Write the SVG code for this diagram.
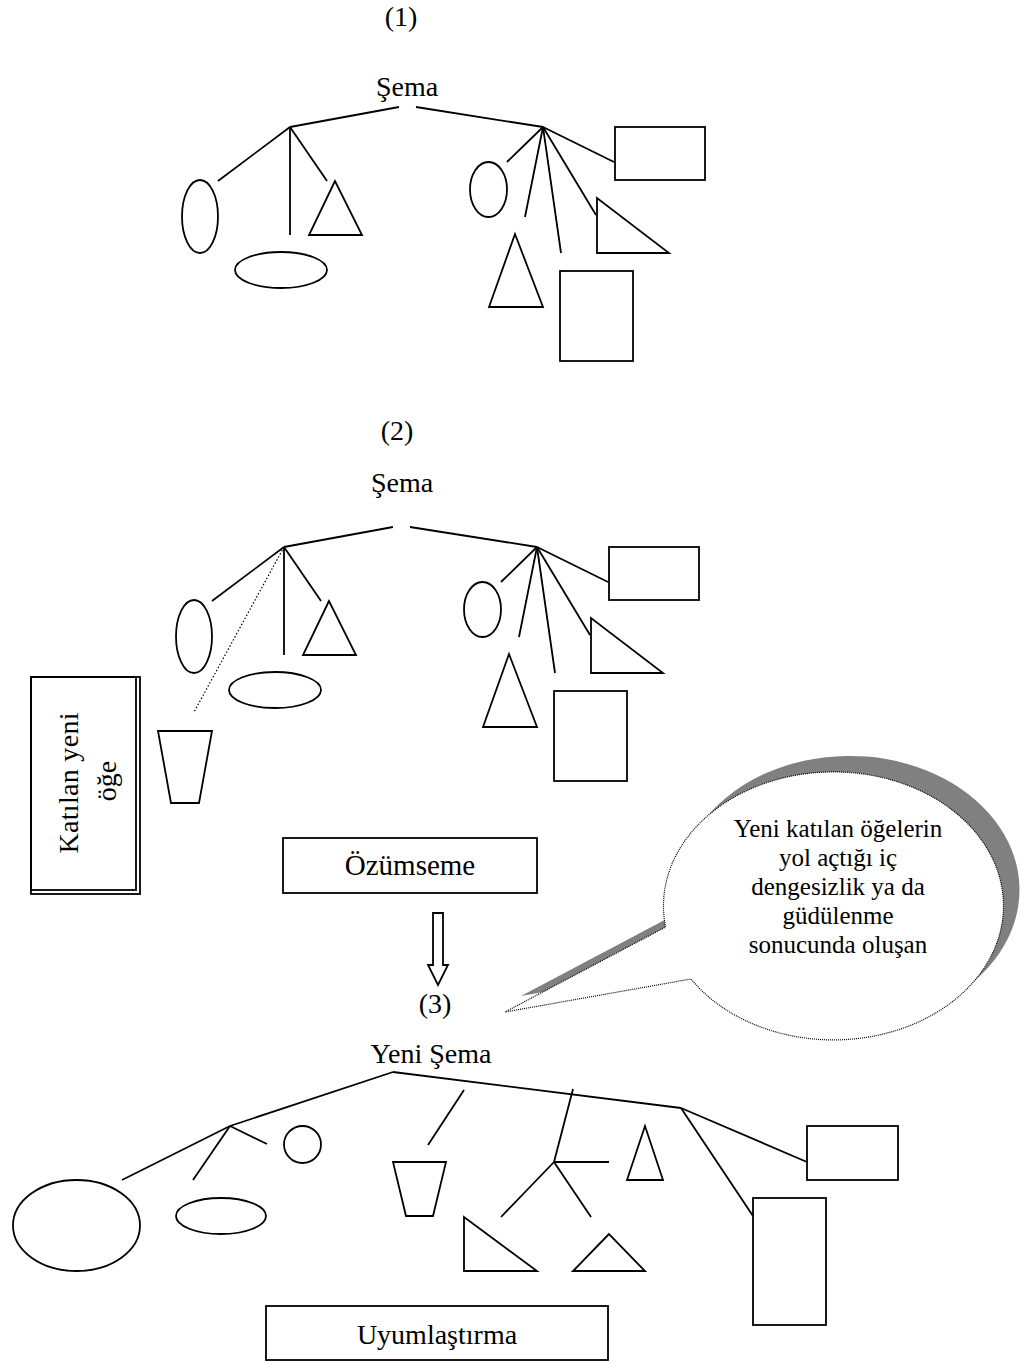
<svg xmlns="http://www.w3.org/2000/svg" width="1021" height="1364" viewBox="0 0 1021 1364">
<defs>
<style>
.s{fill:none;stroke:#000;stroke-width:1.8;stroke-linecap:butt}
.f{fill:#fff;stroke:#000;stroke-width:1.8}
.d{fill:none;stroke:#000;stroke-width:1.2;stroke-dasharray:1.5 2}
.t{font-family:"Liberation Serif","Times New Roman",serif;font-size:28px;fill:#000;text-anchor:middle}
.c{font-family:"Liberation Serif","Times New Roman",serif;font-size:25px;fill:#000;text-anchor:middle}
</style>
<path id="callout" d="M665.6,927 A170,134 0 1 1 691,979 L505,1012 Z"/>
</defs>
<rect width="1021" height="1364" fill="#fff"/>

<!-- labels -->
<g id="labels">
<text class="t" x="401" y="26">(1)</text>
<text class="t" x="407" y="96">Şema</text>
<text class="t" x="397" y="440">(2)</text>
<text class="t" x="402" y="492">Şema</text>
<text class="t" x="435" y="1013">(3)</text>
<text class="t" x="431" y="1063">Yeni Şema</text>
</g>

<!-- section 1 -->
<g id="section1" transform="translate(6,-420)">
<g id="s1-connectors">
<line class="s" x1="284" y1="547" x2="393" y2="527"/>
<line class="s" x1="410" y1="527" x2="537" y2="547"/>
<line class="s" x1="284" y1="547" x2="212" y2="601"/>
<line class="s" x1="284" y1="547" x2="284" y2="655"/>
<line class="s" x1="284" y1="547" x2="321" y2="601"/>
<line class="s" x1="537" y1="547" x2="501" y2="582"/>
<line class="s" x1="537" y1="547" x2="519" y2="637"/>
<line class="s" x1="537" y1="547" x2="555" y2="673"/>
<line class="s" x1="537" y1="547" x2="590" y2="635"/>
<line class="s" x1="537" y1="547" x2="608" y2="582"/>
</g>
<g id="s1-ellipse-tall"><ellipse class="s" cx="194" cy="636.5" rx="18" ry="36.5"/></g>
<g id="s1-ellipse-flat"><ellipse class="s" cx="275" cy="690" rx="46" ry="18"/></g>
<g id="s1-triangle"><polygon class="s" points="329,601 303,655 356,655"/></g>
<g id="s1-ellipse-small"><ellipse class="s" cx="482.5" cy="609.5" rx="18.5" ry="27.5"/></g>
<g id="s1-triangle-tall"><polygon class="s" points="509,654 483,727 537,727"/></g>
<g id="s1-right-triangle"><polygon class="s" points="591,618 591,673 663,673"/></g>
<g id="s1-rect-tall"><rect class="s" x="554" y="691" width="73" height="90"/></g>
<g id="s1-rect-wide"><rect class="s" x="609" y="547" width="90" height="53"/></g>
</g>

<!-- section 2 -->
<g id="section2">
<g id="s2-connectors">
<line class="s" x1="284" y1="547" x2="393" y2="527"/>
<line class="s" x1="410" y1="527" x2="537" y2="547"/>
<line class="s" x1="284" y1="547" x2="212" y2="601"/>
<line class="s" x1="284" y1="547" x2="284" y2="655"/>
<line class="s" x1="284" y1="547" x2="321" y2="601"/>
<line class="d" x1="284" y1="547" x2="194" y2="712"/>
<line class="s" x1="537" y1="547" x2="501" y2="582"/>
<line class="s" x1="537" y1="547" x2="519" y2="637"/>
<line class="s" x1="537" y1="547" x2="555" y2="673"/>
<line class="s" x1="537" y1="547" x2="590" y2="635"/>
<line class="s" x1="537" y1="547" x2="608" y2="582"/>
</g>
<g id="s2-ellipse-tall"><ellipse class="s" cx="194" cy="636.5" rx="18" ry="36.5"/></g>
<g id="s2-ellipse-flat"><ellipse class="s" cx="275" cy="690" rx="46" ry="18"/></g>
<g id="s2-triangle"><polygon class="s" points="329,601 303,655 356,655"/></g>
<g id="s2-ellipse-small"><ellipse class="s" cx="482.5" cy="609.5" rx="18.5" ry="27.5"/></g>
<g id="s2-triangle-tall"><polygon class="s" points="509,654 483,727 537,727"/></g>
<g id="s2-right-triangle"><polygon class="s" points="591,618 591,673 663,673"/></g>
<g id="s2-rect-tall"><rect class="s" x="554" y="691" width="73" height="90"/></g>
<g id="s2-rect-wide"><rect class="s" x="609" y="547" width="90" height="53"/></g>
<g id="s2-trapezoid"><polygon class="s" points="158,731 212,731 199,803 171,803"/></g>
<g id="katilan-box">
<rect class="s" x="31" y="677" width="109" height="217"/>
<rect class="s" x="31" y="677" width="105" height="213"/>
<text class="t" transform="translate(78,783) rotate(-90)" x="0" y="0" textLength="141" lengthAdjust="spacing">Katılan yeni</text>
<text class="t" transform="translate(116,781) rotate(-90)" x="0" y="0">öğe</text>
</g>
<g id="ozumseme"><rect class="s" x="283" y="838" width="254" height="55"/><text class="t" x="410" y="875" style="font-size:29px">Özümseme</text></g>
</g>

<!-- arrow -->
<g id="arrow"><polygon class="f" points="433,913 443,913 443,965 448,965 438,985 428,965 433,965"/></g>

<!-- callout -->
<g id="callout-bubble">
<use href="#callout" transform="translate(16,-16)" fill="#808080"/>
<use href="#callout" fill="#fff" stroke="#000" stroke-width="1.2" stroke-dasharray="1 1"/>
<text class="c" x="838" y="837">Yeni katılan öğelerin</text>
<text class="c" x="838" y="866">yol açtığı iç</text>
<text class="c" x="838" y="895">dengesizlik ya da</text>
<text class="c" x="838" y="924">güdülenme</text>
<text class="c" x="838" y="953">sonucunda oluşan</text>
</g>

<!-- section 3 -->
<g id="section3">
<g id="s3-connectors">
<line class="s" x1="393" y1="1072" x2="230" y2="1126"/>
<line class="s" x1="393" y1="1072" x2="681" y2="1108"/>
<line class="s" x1="230" y1="1126" x2="122" y2="1180"/>
<line class="s" x1="230" y1="1126" x2="193" y2="1180"/>
<line class="s" x1="230" y1="1126" x2="267" y2="1144"/>
<line class="s" x1="464" y1="1090" x2="428" y2="1145"/>
<line class="s" x1="573" y1="1089" x2="554" y2="1162"/>
<line class="s" x1="554" y1="1162" x2="609" y2="1162"/>
<line class="s" x1="554" y1="1162" x2="501" y2="1217"/>
<line class="s" x1="554" y1="1162" x2="591" y2="1217"/>
<line class="s" x1="681" y1="1108" x2="807" y2="1162"/>
<line class="s" x1="681" y1="1108" x2="753" y2="1216"/>
</g>
<g id="s3-ellipse-big"><ellipse class="s" cx="76.5" cy="1225.5" rx="63.5" ry="45.5"/></g>
<g id="s3-ellipse-flat"><ellipse class="s" cx="221" cy="1216" rx="45" ry="18"/></g>
<g id="s3-circle"><circle class="s" cx="302.5" cy="1144.5" r="18.5"/></g>
<g id="s3-trapezoid"><polygon class="s" points="393,1162 446,1162 433,1216 406,1216"/></g>
<g id="s3-right-triangle"><polygon class="s" points="464,1217 464,1271 537,1271"/></g>
<g id="s3-triangle-small"><polygon class="s" points="609,1234 573,1271 645,1271"/></g>
<g id="s3-triangle-tall"><polygon class="s" points="645,1126 627,1180 663,1180"/></g>
<g id="s3-rect-wide"><rect class="s" x="807" y="1126" width="91" height="54"/></g>
<g id="s3-rect-tall"><rect class="s" x="753" y="1198" width="73" height="127"/></g>
<g id="uyumlastirma"><rect class="s" x="266" y="1306" width="342" height="54"/><text class="t" x="437" y="1344">Uyumlaştırma</text></g>
</g>
</svg>
